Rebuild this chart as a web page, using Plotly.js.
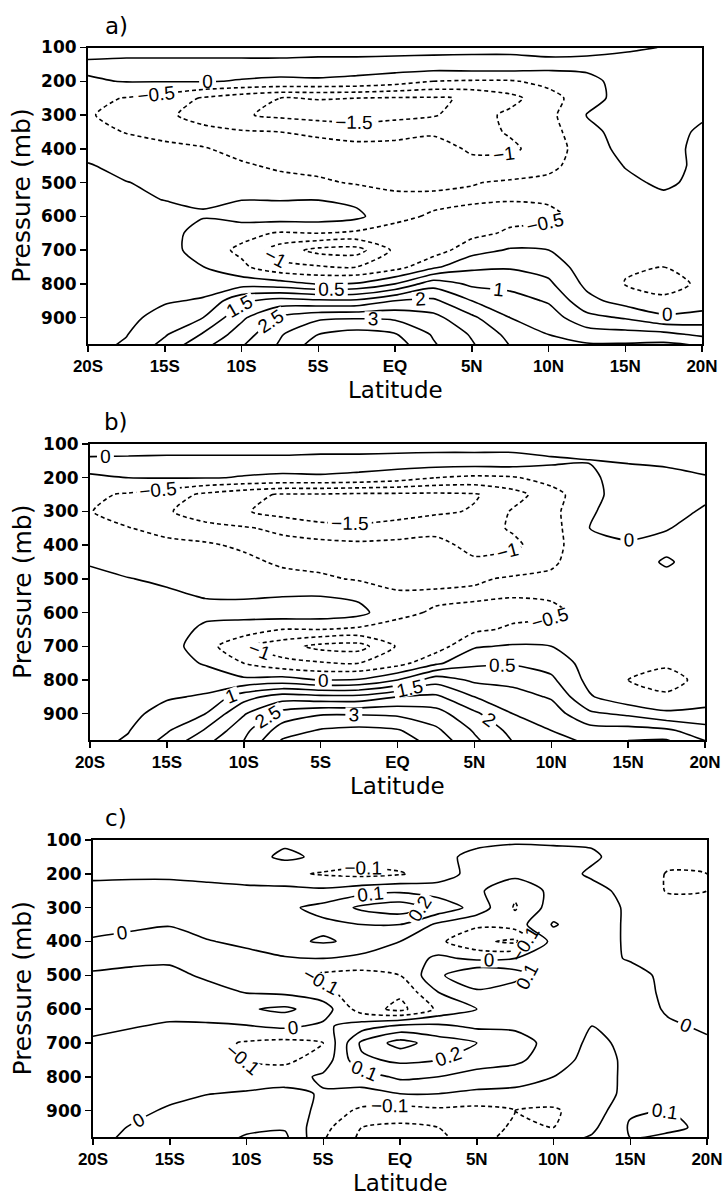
<!DOCTYPE html>
<html>
<head>
<meta charset="utf-8">
<script src="https://cdn.plot.ly/plotly-3.0.1.min.js"></script>
<style>html,body{margin:0;padding:0;background:#fff}#chart{width:725px;height:1199px}</style>
</head>
<body>
<div id="chart"></div>
<script>
// ---------------- data ----------------
const latitudes = [-20,-17.5,-15,-12.5,-10,-7.5,-5,-2.5,0,2.5,5,7.5,10,12.5,15,17.5,20];
const pressures = [100,150,200,250,300,350,400,450,500,550,600,650,700,750,800,850,900,950,980];
const latTickVals = [-20,-15,-10,-5,0,5,10,15,20];
const latTickText = ['20S','15S','10S','5S','EQ','5N','10N','15N','20N'];
const presTickVals = [100,200,300,400,500,600,700,800,900];
const panelNames = ['a)','b)','c)'];

// Each inner array: one latitude profile, from 100 mb down to 980 mb
const panelA = [
 /*-20  */[-0.25,0.10,-0.05,-0.40,-0.45,-0.35,-0.15,0.03,0.08,0.10,0.12,0.14,0.15,0.17,0.20,0.22,0.26,0.30,0.33],
 /*-17.5*/[-0.25,0.15,0.02,-0.52,-0.70,-0.52,-0.30,-0.12,0.01,0.08,0.12,0.15,0.17,0.20,0.25,0.30,0.37,0.48,0.56],
 /*-15  */[-0.25,0.15,0.02,-0.70,-0.90,-0.65,-0.38,-0.20,-0.08,-0.01,0.15,0.20,0.22,0.25,0.32,0.45,0.68,0.95,1.15],
 /*-12.5*/[-0.25,0.15,0.02,-1.05,-1.20,-0.85,-0.45,-0.25,-0.12,-0.04,0.03,-0.20,-0.25,0.01,0.30,0.55,1.00,1.55,1.85],
 /*-10  */[-0.25,0.15,-0.02,-1.30,-1.45,-0.95,-0.70,-0.42,-0.20,-0.01,0.20,-0.35,-0.60,-0.40,0.30,1.40,1.90,2.25,2.45],
 /*-7.5 */[-0.25,0.15,-0.05,-1.50,-1.60,-1.00,-0.80,-0.60,-0.30,-0.02,0.25,-0.55,-1.25,-0.85,0.20,1.70,2.60,2.95,3.05],
 /*-5   */[-0.25,0.20,-0.05,-1.48,-1.70,-1.10,-0.80,-0.65,-0.42,-0.01,0.25,-0.50,-1.65,-0.95,-0.02,1.60,2.90,3.50,3.75],
 /*-2.5 */[-0.25,0.20,-0.10,-1.50,-1.75,-1.20,-0.85,-0.70,-0.55,-0.12,0.12,-0.60,-1.70,-1.00,0.05,1.60,2.95,3.70,3.95],
 /*0    */[-0.25,0.25,-0.25,-1.55,-1.65,-1.15,-0.85,-0.70,-0.60,-0.40,-0.40,-0.65,-0.90,-0.70,0.50,2.00,2.90,3.55,3.75],
 /*2.5  */[-0.25,0.30,-0.50,-1.55,-1.55,-1.05,-0.85,-0.75,-0.60,-0.40,-0.55,-0.80,-0.75,-0.10,1.30,2.10,2.65,2.95,3.05],
 /*5    */[-0.25,0.35,-0.55,-1.45,-1.20,-1.20,-1.05,-0.90,-0.52,-0.42,-0.70,-0.65,-0.20,0.40,0.90,1.50,2.10,2.45,2.55],
 /*7.5  */[-0.25,0.35,-0.55,-1.15,-0.90,-0.95,-1.10,-0.75,-0.45,-0.48,-0.65,-0.42,0.05,0.45,0.85,1.20,1.50,1.85,1.98],
 /*10   */[-0.25,0.20,-0.35,-0.70,-0.65,-0.70,-0.75,-0.60,-0.40,-0.45,-0.60,-0.35,0.00,0.30,0.60,0.95,1.25,1.50,1.60],
 /*12.5 */[-0.15,0.15,-0.15,-0.20,0.02,-0.15,-0.25,-0.30,-0.30,-0.30,-0.35,-0.35,-0.30,-0.25,-0.12,0.15,0.65,1.25,1.55],
 /*15   */[-0.10,0.25,0.20,0.20,0.20,0.20,0.15,0.02,-0.10,-0.20,-0.25,-0.30,-0.35,-0.45,-0.52,-0.20,0.45,1.20,1.55],
 /*17.5 */[0.02,0.30,0.30,0.30,0.30,0.25,0.20,0.15,0.08,-0.10,-0.20,-0.30,-0.38,-0.50,-0.68,-0.40,0.10,1.15,1.60],
 /*20   */[0.10,0.30,0.30,0.25,0.08,-0.10,-0.15,-0.10,-0.12,-0.15,-0.20,-0.25,-0.30,-0.38,-0.42,-0.30,0.20,0.90,1.45]
];

const panelB = [
 /*-20  */[-0.30,0.10,-0.03,-0.42,-0.48,-0.35,-0.18,-0.02,0.06,0.10,0.12,0.14,0.15,0.17,0.20,0.22,0.26,0.30,0.33],
 /*-17.5*/[-0.30,0.12,0.00,-0.55,-0.72,-0.48,-0.30,-0.12,0.01,0.08,0.12,0.15,0.17,0.20,0.25,0.30,0.37,0.48,0.56],
 /*-15  */[-0.30,0.15,0.02,-0.75,-0.95,-0.65,-0.38,-0.20,-0.05,0.05,0.15,0.20,0.22,0.25,0.32,0.45,0.68,0.95,1.15],
 /*-12.5*/[-0.30,0.15,0.02,-1.10,-1.25,-0.85,-0.42,-0.25,-0.12,-0.02,0.10,-0.08,-0.28,-0.05,0.30,0.55,1.00,1.55,1.85],
 /*-10  */[-0.30,0.15,-0.02,-1.35,-1.45,-0.95,-0.60,-0.35,-0.18,-0.04,0.15,-0.20,-0.95,-0.50,0.10,1.30,1.95,2.35,2.50],
 /*-7.5 */[-0.30,0.15,-0.05,-1.55,-1.70,-1.10,-0.85,-0.60,-0.30,-0.02,0.30,-0.50,-1.30,-0.85,0.20,1.75,2.70,3.25,3.55],
 /*-5   */[-0.30,0.20,-0.05,-1.55,-1.85,-1.30,-0.85,-0.65,-0.42,-0.01,0.30,-0.50,-1.65,-0.95,-0.02,1.65,2.95,3.55,3.80],
 /*-2.5 */[-0.30,0.20,-0.10,-1.60,-1.90,-1.35,-0.90,-0.70,-0.55,-0.10,0.15,-0.60,-1.70,-1.00,0.05,1.65,2.95,3.65,3.90],
 /*0    */[-0.30,0.25,-0.25,-1.60,-1.80,-1.20,-0.90,-0.72,-0.60,-0.45,-0.40,-0.65,-0.95,-0.70,0.50,2.00,2.90,3.55,3.75],
 /*2.5  */[-0.30,0.30,-0.50,-1.60,-1.60,-1.10,-0.90,-0.80,-0.62,-0.42,-0.55,-0.80,-0.75,-0.10,1.30,2.10,2.70,3.10,3.30],
 /*5    */[-0.30,0.30,-0.60,-1.55,-1.45,-1.20,-1.10,-0.95,-0.55,-0.42,-0.65,-0.60,-0.05,0.40,0.90,1.50,2.10,2.45,2.60],
 /*7.5  */[-0.30,0.30,-0.55,-1.20,-0.95,-0.95,-1.10,-0.75,-0.45,-0.48,-0.65,-0.42,0.05,0.45,0.85,1.20,1.50,1.85,1.98],
 /*10   */[-0.30,0.10,-0.30,-0.70,-0.65,-0.70,-0.72,-0.58,-0.40,-0.45,-0.60,-0.35,0.00,0.30,0.60,0.95,1.25,1.50,1.60],
 /*12.5 */[-0.30,0.02,-0.10,-0.15,-0.05,0.00,-0.05,-0.20,-0.30,-0.30,-0.35,-0.35,-0.30,-0.20,-0.15,0.05,0.60,1.20,1.45],
 /*15   */[-0.30,-0.05,0.25,0.25,0.22,0.12,-0.05,-0.20,-0.25,-0.25,-0.28,-0.30,-0.35,-0.42,-0.50,-0.35,0.40,1.20,1.50],
 /*17.5 */[-0.30,-0.12,0.20,0.22,0.15,0.02,-0.12,0.05,-0.12,-0.20,-0.25,-0.30,-0.35,-0.45,-0.62,-0.45,0.10,1.10,1.55],
 /*20   */[-0.30,-0.15,0.03,0.08,-0.05,-0.15,-0.20,-0.20,-0.20,-0.22,-0.25,-0.28,-0.30,-0.35,-0.40,-0.25,0.15,0.70,1.00]
];

const panelC = [
 /*-20  */[-0.04,-0.04,-0.02,0.03,0.04,0.03,-0.01,-0.03,0.01,0.03,0.03,0.015,-0.01,-0.03,-0.04,-0.04,-0.04,-0.03,-0.03],
 /*-17.5*/[-0.04,-0.04,-0.02,0.04,0.05,0.02,-0.03,-0.02,0.02,0.04,0.04,0.005,-0.03,-0.04,-0.04,-0.03,-0.02,0.005,0.02],
 /*-15  */[-0.04,-0.05,-0.02,0.04,0.05,0.005,-0.04,-0.02,0.03,0.05,0.03,-0.01,-0.04,-0.05,-0.04,-0.02,0.01,0.03,0.04],
 /*-12.5*/[-0.04,-0.05,-0.03,0.03,0.05,0.04,-0.005,-0.04,-0.02,0.04,0.04,-0.01,-0.07,-0.07,-0.05,-0.002,0.04,0.07,0.08],
 /*-10  */[-0.03,-0.04,-0.04,0.02,0.06,0.06,0.02,-0.03,-0.04,-0.005,0.09,-0.005,-0.11,-0.11,-0.05,0.01,0.06,0.09,0.105],
 /*-7.5 */[-0.02,0.02,-0.08,0.03,0.08,0.08,0.08,-0.01,-0.08,-0.02,0.12,0.02,-0.13,-0.12,-0.05,0.03,0.08,0.09,0.12],
 /*-5   */[-0.03,-0.02,-0.11,0.02,0.13,0.08,0.11,0.00,-0.12,-0.06,0.05,-0.02,-0.10,-0.06,0.02,-0.01,-0.04,-0.07,-0.09],
 /*-2.5 */[-0.03,-0.05,-0.13,0.06,0.22,0.10,0.08,-0.03,-0.13,-0.18,-0.15,0.05,0.22,0.18,0.05,-0.03,-0.12,-0.20,-0.22],
 /*0    */[-0.02,-0.04,-0.11,0.08,0.26,0.10,0.00,-0.06,-0.10,-0.18,-0.23,0.12,0.34,0.22,0.12,0.00,-0.14,-0.22,-0.25],
 /*2.5  */[-0.02,-0.02,-0.05,0.05,0.17,-0.02,-0.08,0.02,0.08,0.00,-0.08,0.12,0.25,0.20,0.10,0.00,-0.12,-0.20,-0.22],
 /*5    */[-0.02,0.02,0.04,0.02,0.06,-0.08,-0.18,-0.02,0.20,0.08,0.00,0.08,0.20,0.15,0.06,-0.02,-0.13,-0.16,-0.15],
 /*7.5  */[-0.01,0.03,0.03,-0.08,-0.11,-0.05,-0.22,0.00,0.15,0.02,0.04,0.08,0.15,0.12,0.05,-0.03,-0.10,-0.08,-0.05],
 /*10   */[-0.01,0.02,0.03,0.03,0.05,0.11,0.04,0.02,0.04,0.03,0.02,0.03,0.06,0.05,0.00,-0.06,-0.11,-0.10,-0.04],
 /*12.5 */[-0.01,0.01,-0.01,0.02,0.03,0.03,0.03,0.02,0.02,0.02,0.01,0.00,-0.02,-0.04,-0.06,-0.09,-0.06,-0.02,0.01],
 /*15   */[-0.03,-0.03,-0.02,-0.02,-0.01,-0.01,-0.01,-0.005,0.02,0.02,0.02,0.02,0.02,0.02,0.03,0.05,0.09,0.11,0.10],
 /*17.5 */[-0.04,-0.06,-0.11,-0.11,-0.05,-0.03,-0.02,-0.02,-0.015,-0.01,-0.005,0.005,0.02,0.03,0.04,0.06,0.10,0.12,0.08],
 /*20   */[-0.04,-0.06,-0.10,-0.10,-0.05,-0.03,-0.02,-0.02,-0.02,-0.015,-0.01,-0.005,0.005,0.02,0.03,0.04,0.06,0.08,0.06]
];

// ---------------- build ----------------
function toRows(cols){ // columns (per latitude) -> rows (per pressure)
  return pressures.map((p,i)=>cols.map(c=>c[i]));
}
const W=725, H=1199;
// panel frames in pixels [left, right, top, bottom]
const frames = [[88,702,47.5,344],[90,705,444,740],[93,707,840,1137]];
const levelSets = [
  {neg:{start:-2,end:-0.5,size:0.5}, pos:{start:0,end:5,size:0.5}},
  {neg:{start:-2,end:-0.5,size:0.5}, pos:{start:0,end:5,size:0.5}},
  {neg:{start:-0.4,end:-0.1,size:0.1}, pos:{start:0,end:0.5,size:0.1}}
];
const panels=[panelA,panelB,panelC];
const labelFont={family:'Liberation Sans Narrow, Liberation Sans, Arial, sans-serif', size:19, color:'black'};
const xTickFont={family:'Liberation Sans, Arial, sans-serif', size:17, color:'black', weight:'bold'};
const yTickFont={family:'DejaVu Sans, sans-serif', size:17, color:'black', weight:'bold'};
const titleFont={family:'DejaVu Sans, sans-serif', size:25, color:'black'};

const traces=[]; const layout={
  width:W, height:H, margin:{l:0,r:0,t:0,b:0}, paper_bgcolor:'white', plot_bgcolor:'white',
  showlegend:false, annotations:[]
};
panels.forEach((cols,k)=>{
  const z=toRows(cols);
  const xa = k===0?'x':'x'+(k+1), ya = k===0?'y':'y'+(k+1);
  const ls=levelSets[k];
  [['neg','4px,3px'],['pos','solid']].forEach(([key,dash])=>{
    traces.push({type:'contour', x:latitudes, y:pressures, z:z, xaxis:xa, yaxis:ya,
      autocontour:false, contours:Object.assign({coloring:'none', showlabels:true, labelfont:labelFont}, ls[key]),
      line:{color:'black', width:1.6, dash:dash, smoothing:0.7}, showscale:false, hoverinfo:'skip'});
  });
  const f=frames[k];
  const common={showline:true, mirror:true, linecolor:'black', linewidth:2, showgrid:false, zeroline:false,
    ticks:'outside', ticklen:6, tickwidth:1.5, tickcolor:'black', ticklabeloverflow:'allow'};
  layout[k===0?'xaxis':'xaxis'+(k+1)] = Object.assign({}, common, {tickfont:xTickFont,
    domain:[f[0]/W, f[1]/W], range:[-20,20], anchor:ya, tickmode:'array', tickvals:latTickVals, ticktext:latTickText});
  layout[k===0?'yaxis':'yaxis'+(k+1)] = Object.assign({}, common, {tickfont:yTickFont,
    domain:[1-f[3]/H, 1-f[2]/H], range:[978,100], anchor:xa, tickmode:'array', tickvals:presTickVals});
  layout.annotations.push({text:panelNames[k], xref:'paper', yref:'paper', x:116/W, y:1-(f[2]-22)/H,
    showarrow:false, xanchor:'center', yanchor:'middle', font:{family:'DejaVu Sans, sans-serif', size:23, color:'black'}});
  layout.annotations.push({text:'Pressure (mb)', xref:'paper', yref:'paper', x:22/W, y:1-((f[2]+f[3])/2)/H,
    showarrow:false, textangle:-90, xanchor:'center', yanchor:'middle', font:titleFont});
  layout.annotations.push({text:'Latitude', xref:'paper', yref:'paper', x:((f[0]+f[1])/2)/W, y:1-(f[3]+46)/H,
    showarrow:false, xanchor:'center', yanchor:'middle', font:{family:'DejaVu Sans, sans-serif', size:23, color:'black'}});
});
Plotly.newPlot('chart', traces, layout, {staticPlot:true, displayModeBar:false});
</script>
</body>
</html>
